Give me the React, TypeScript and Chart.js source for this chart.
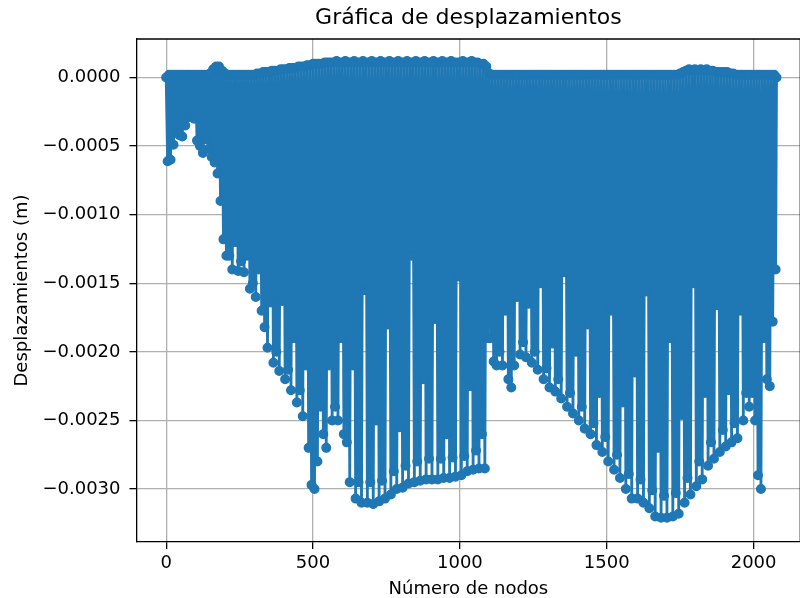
import React, { useEffect, useRef } from 'react';
import { Chart, registerables } from 'chart.js';

Chart.register(...registerables);

// Nodos en los que la curva pasa por la parte alta (cerca de 0)
const nodosSuperiores = [
  0, 10, 20, 30, 40, 50, 60, 70, 80, 90,
  100, 110, 120, 130, 140, 150, 160, 170, 180, 190,
  200, 210, 220, 230, 240, 250, 260, 270, 280, 290,
  300, 310, 320, 330, 340, 350, 360, 370, 380, 390,
  400, 410, 420, 430, 440, 450, 460, 470, 480, 490,
  500, 510, 520, 530, 540, 550, 560, 570, 580, 590,
  600, 610, 620, 630, 640, 650, 660, 670, 680, 690,
  700, 710, 720, 730, 740, 750, 760, 770, 780, 790,
  800, 810, 820, 830, 840, 850, 860, 870, 880, 890,
  900, 910, 920, 930, 940, 950, 960, 970, 980, 990,
  1000, 1010, 1020, 1030, 1040, 1050, 1060, 1070, 1080, 1090,
  1100, 1110, 1120, 1130, 1140, 1150, 1160, 1170, 1180, 1190,
  1200, 1210, 1220, 1230, 1240, 1250, 1260, 1270, 1280, 1290,
  1300, 1310, 1320, 1330, 1340, 1350, 1360, 1370, 1380, 1390,
  1400, 1410, 1420, 1430, 1440, 1450, 1460, 1470, 1480, 1490,
  1500, 1510, 1520, 1530, 1540, 1550, 1560, 1570, 1580, 1590,
  1600, 1610, 1620, 1630, 1640, 1650, 1660, 1670, 1680, 1690,
  1700, 1710, 1720, 1730, 1740, 1750, 1760, 1770, 1780, 1790,
  1800, 1810, 1820, 1830, 1840, 1850, 1860, 1870, 1880, 1890,
  1900, 1910, 1920, 1930, 1940, 1950, 1960, 1970, 1980, 1990,
  2000, 2010, 2020, 2030, 2040, 2050, 2060, 2070, 2078,
];

const desplazamientosSuperiores = [
  0, 0.00002, 0.00002, 0.00002, 0.00002, 0.00002, 0.00002, 0.00002, 0.00002, 0.00002,
  0.00002, 0.00002, 0.00002, 0.00002, 0.00002, 0.00003, 0.00006, 0.00008, 0.00008, 0.00005,
  0.00003, 0.00002, 0.00002, 0.00002, 0.00002, 0.00002, 0.00002, 0.00002, 0.00002, 0.00002,
  0.00002, 0.00003, 0.00003, 0.00004, 0.00004, 0.00004, 0.00005, 0.00005, 0.00005, 0.00006,
  0.00006, 0.00006, 0.00007, 0.00007, 0.00007, 0.00008, 0.00008, 0.00008, 0.00009, 0.00009,
  0.0001, 0.0001, 0.0001, 0.0001, 0.00011, 0.00011, 0.00011, 0.00011, 0.00012, 0.00011,
  0.00011, 0.00012, 0.00011, 0.00011, 0.00012, 0.00011, 0.00011, 0.00012, 0.00011, 0.00011,
  0.00012, 0.00011, 0.00011, 0.00012, 0.00011, 0.00011, 0.00012, 0.00011, 0.00011, 0.00012,
  0.00011, 0.00011, 0.00012, 0.00011, 0.00011, 0.00012, 0.00011, 0.00011, 0.00012, 0.00011,
  0.00011, 0.00012, 0.00011, 0.00011, 0.00012, 0.00011, 0.00011, 0.00012, 0.00011, 0.00011,
  0.00011, 0.00012, 0.00011, 0.00011, 0.00012, 0.00011, 0.00011, 0.0001, 0.0001, 0.00008,
  0.00003, 0.00002, 0.00002, 0.00002, 0.00002, 0.00002, 0.00002, 0.00002, 0.00002, 0.00002,
  0.00002, 0.00002, 0.00002, 0.00002, 0.00002, 0.00002, 0.00002, 0.00002, 0.00002, 0.00002,
  0.00002, 0.00002, 0.00002, 0.00002, 0.00002, 0.00002, 0.00002, 0.00002, 0.00002, 0.00002,
  0.00002, 0.00002, 0.00002, 0.00002, 0.00002, 0.00002, 0.00002, 0.00002, 0.00002, 0.00002,
  0.00002, 0.00002, 0.00002, 0.00002, 0.00002, 0.00002, 0.00002, 0.00002, 0.00002, 0.00002,
  0.00002, 0.00002, 0.00002, 0.00002, 0.00002, 0.00002, 0.00002, 0.00002, 0.00002, 0.00002,
  0.00002, 0.00002, 0.00002, 0.00002, 0.00002, 0.00003, 0.00004, 0.00005, 0.00006, 0.00005,
  0.00006, 0.00005, 0.00006, 0.00005, 0.00006, 0.00005, 0.00005, 0.00004, 0.00004, 0.00004,
  0.00004, 0.00004, 0.00003, 0.00003, 0.00002, 0.00002, 0.00002, 0.00002, 0.00002, 0.00002,
  0.00002, 0.00002, 0.00002, 0.00002, 0.00002, 0.00002, 0.00002, 0.00002, 0,
];

// Nodos en los que la curva baja a su desplazamiento mínimo local
const nodosInferiores = [
  5, 15, 25, 35, 45, 55, 65, 75, 85, 95,
  105, 115, 125, 135, 145, 155, 165, 175, 185, 195,
  205, 215, 225, 235, 245, 255, 265, 275, 285, 295,
  305, 315, 325, 335, 345, 355, 365, 375, 385, 395,
  405, 415, 425, 435, 445, 455, 465, 475, 485, 495,
  505, 515, 525, 535, 545, 555, 565, 575, 585, 595,
  605, 615, 625, 635, 645, 655, 665, 675, 685, 695,
  705, 715, 725, 735, 745, 755, 765, 775, 785, 795,
  805, 815, 825, 835, 845, 855, 865, 875, 885, 895,
  905, 915, 925, 935, 945, 955, 965, 975, 985, 995,
  1005, 1015, 1025, 1035, 1045, 1055, 1065, 1075, 1085, 1095,
  1105, 1115, 1125, 1135, 1145, 1155, 1165, 1175, 1185, 1195,
  1205, 1215, 1225, 1235, 1245, 1255, 1265, 1275, 1285, 1295,
  1305, 1315, 1325, 1335, 1345, 1355, 1365, 1375, 1385, 1395,
  1405, 1415, 1425, 1435, 1445, 1455, 1465, 1475, 1485, 1495,
  1505, 1515, 1525, 1535, 1545, 1555, 1565, 1575, 1585, 1595,
  1605, 1615, 1625, 1635, 1645, 1655, 1665, 1675, 1685, 1695,
  1705, 1715, 1725, 1735, 1745, 1755, 1765, 1775, 1785, 1795,
  1805, 1815, 1825, 1835, 1845, 1855, 1865, 1875, 1885, 1895,
  1905, 1915, 1925, 1935, 1945, 1955, 1965, 1975, 1985, 1995,
  2005, 2015, 2025, 2035, 2045, 2055, 2065, 2075,
];

const desplazamientosInferiores = [
  -0.00061, -0.0006, -0.00049, -0.0004, -0.00042, -0.00043, -0.00035, -0.00029, -0.00028, -0.0003,
  -0.00046, -0.0005, -0.00055, -0.00045, -0.00052, -0.00058, -0.00062, -0.0007, -0.0009, -0.00118,
  -0.0013, -0.0013, -0.0014, -0.0012, -0.00141, -0.00134, -0.00142, -0.0013, -0.00154, -0.0015,
  -0.0016, -0.0014, -0.0017, -0.00182, -0.00197, -0.00164, -0.00208, -0.002, -0.00214, -0.00163,
  -0.0022, -0.00213, -0.00228, -0.0019, -0.00237, -0.00228, -0.00247, -0.0021, -0.0027, -0.00297,
  -0.003, -0.0028, -0.0024, -0.0026, -0.0027, -0.0021, -0.0025, -0.0024, -0.0025, -0.0019,
  -0.0026, -0.00266, -0.00295, -0.0021, -0.00307, -0.00295, -0.0031, -0.00155, -0.0031, -0.00295,
  -0.00311, -0.0025, -0.00309, -0.00294, -0.00307, -0.0018, -0.00304, -0.00287, -0.003, -0.00255,
  -0.00299, -0.00283, -0.00296, -0.0013, -0.00295, -0.0028, -0.00294, -0.0022, -0.00293, -0.00278,
  -0.00293, -0.00176, -0.00293, -0.00278, -0.00292, -0.0026, -0.00292, -0.00277, -0.00291, -0.00145,
  -0.0029, -0.00276, -0.00287, -0.00225, -0.00286, -0.00272, -0.00285, -0.0026, -0.00285, -0.0019,
  -0.0019, -0.00207, -0.0021, -0.002, -0.0021, -0.0017, -0.0022, -0.00226, -0.0021, -0.0016,
  -0.00202, -0.00193, -0.00204, -0.00165, -0.00208, -0.002, -0.00213, -0.0015, -0.0022, -0.00212,
  -0.00226, -0.00194, -0.00229, -0.0022, -0.00234, -0.00142, -0.0024, -0.0023, -0.00245, -0.002,
  -0.0025, -0.0024, -0.00256, -0.0018, -0.0026, -0.00252, -0.00268, -0.0023, -0.00273, -0.00262,
  -0.0028, -0.0017, -0.00286, -0.00275, -0.00292, -0.00237, -0.003, -0.00289, -0.00307, -0.00215,
  -0.00307, -0.00293, -0.0031, -0.00156, -0.00314, -0.00301, -0.0032, -0.0027, -0.00321, -0.00305,
  -0.00321, -0.0019, -0.0032, -0.00303, -0.00318, -0.00246, -0.0031, -0.00292, -0.00304, -0.0015,
  -0.00298, -0.0028, -0.00293, -0.0023, -0.00283, -0.00266, -0.00278, -0.00166, -0.00273, -0.00257,
  -0.00269, -0.00228, -0.00266, -0.00252, -0.00263, -0.0017, -0.0025, -0.0023, -0.0024, -0.0023,
  -0.0025, -0.0029, -0.003, -0.0019, -0.0022, -0.00225, -0.00178, -0.0014,
];

const ticksX = [0, 500, 1000, 1500, 2000];
const ticksY = [-0.003, -0.0025, -0.002, -0.0015, -0.001, -0.0005, 0];

const AZUL = '#1f77b4';
const FUENTE = 'DejaVu Sans';

function formatoY(v: number): string {
  const r = Math.round(v * 10000) / 10000;
  if (Math.abs(r) < 1e-9) return '0.0000';
  return (r < 0 ? '\u2212' : '') + Math.abs(r).toFixed(4);
}

export default function App() {
  const ref = useRef<HTMLCanvasElement>(null);

  useEffect(() => {
    document.documentElement.style.overflow = 'hidden';
    document.body.style.margin = '0';
    document.body.style.overflow = 'hidden';

    const puntos: { x: number; y: number }[] = [];
    nodosSuperiores.forEach((n, i) => puntos.push({ x: n, y: desplazamientosSuperiores[i] }));
    nodosInferiores.forEach((n, i) => puntos.push({ x: n, y: desplazamientosInferiores[i] }));
    puntos.sort((a, b) => a.x - b.x);

    const marco = {
      id: 'marco',
      afterDraw(chart: any) {
        const { ctx, chartArea: a } = chart;
        ctx.save();
        ctx.strokeStyle = '#000';
        ctx.lineWidth = 1.3;
        ctx.beginPath();
        ctx.moveTo(a.left, a.top);
        ctx.lineTo(a.right, a.top);
        ctx.lineTo(a.right, a.bottom);
        ctx.stroke();
        ctx.restore();
      },
    };

    const chart = new Chart(ref.current as HTMLCanvasElement, {
      type: 'line',
      data: {
        datasets: [
          {
            data: puntos,
            borderColor: AZUL,
            backgroundColor: AZUL,
            pointBackgroundColor: AZUL,
            pointBorderColor: AZUL,
            borderWidth: 2.8,
            pointRadius: 4.3,
            pointBorderWidth: 1.4,
            tension: 0,
          },
        ],
      },
      options: {
        animation: false,
        responsive: false,
        devicePixelRatio: 1,
        layout: { padding: { left: 0, right: 1, top: 0, bottom: 0 } },
        plugins: {
          legend: { display: false },
          tooltip: { enabled: false },
          title: {
            display: true,
            fullSize: false,
            text: 'Gráfica de desplazamientos',
            color: '#000',
            font: { family: FUENTE, size: 22, weight: 'normal', lineHeight: 1.2 },
            padding: { top: 5.5, bottom: 7.1 },
          },
        },
        scales: {
          x: {
            type: 'linear',
            min: -101,
            max: 2159,
            afterFit: (s: any) => {
              s.height = 56;
            },
            afterBuildTicks: (s: any) => {
              s.ticks = ticksX.map((v) => ({ value: v }));
            },
            ticks: {
              color: '#000',
              font: { family: FUENTE, size: 18, lineHeight: 1.2 },
              padding: 4,
              maxRotation: 0,
              autoSkip: false,
              callback: (v: any) => String(v),
            },
            grid: { color: '#b0b0b0', lineWidth: 1.3, tickColor: '#000', tickLength: 7, tickWidth: 1.3 },
            border: { display: true, color: '#000', width: 1.3 },
            title: {
              display: true,
              text: 'Número de nodos',
              color: '#000',
              font: { family: FUENTE, size: 18, lineHeight: 1 },
              padding: { top: 0, bottom: 0 },
            },
          },
          y: {
            type: 'linear',
            min: -0.0033864,
            max: 0.0002807,
            afterFit: (s: any) => {
              s.width = 136.5;
            },
            afterBuildTicks: (s: any) => {
              s.ticks = ticksY.map((v) => ({ value: v }));
            },
            ticks: {
              color: '#000',
              font: { family: FUENTE, size: 18, lineHeight: 1.2 },
              padding: 9,
              autoSkip: false,
              callback: (v: any) => formatoY(Number(v)),
            },
            grid: { color: '#b0b0b0', lineWidth: 1.3, tickColor: '#000', tickLength: 7, tickWidth: 1.3 },
            border: { display: true, color: '#000', width: 1.3 },
            title: {
              display: true,
              text: 'Desplazamientos (m)',
              color: '#000',
              font: { family: FUENTE, size: 18, lineHeight: 1 },
              padding: { top: 13, bottom: 0 },
            },
          },
        },
      },
      plugins: [marco],
    } as any);

    return () => chart.destroy();
  }, []);

  return (
    <div style={{ width: 800, height: 598, overflow: 'hidden', position: 'relative' }}>
      <canvas ref={ref} width={806} height={598} style={{ display: 'block' }} />
    </div>
  );
}
